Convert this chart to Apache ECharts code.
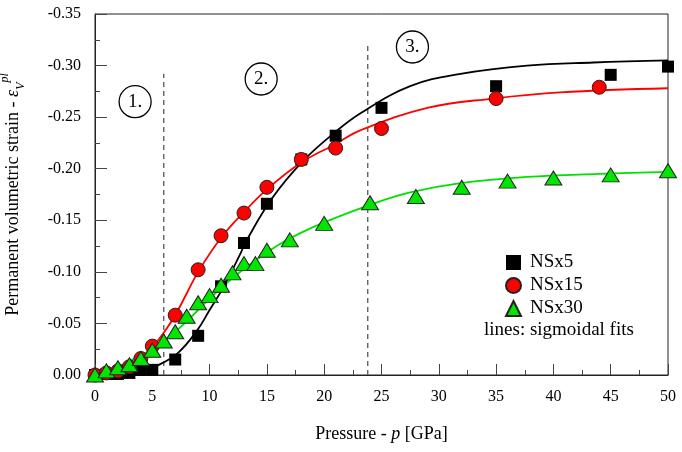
<!DOCTYPE html>
<html>
<head>
<meta charset="utf-8">
<style>
  html, body { margin: 0; padding: 0; background: #fff; }
  #chart { width: 682px; height: 452px; }
</style>
<script src="https://cdn.jsdelivr.net/npm/echarts@6/dist/echarts.min.js"></script>
</head>
<body>
<div id="chart"></div>
<script>
// measured points (pressure in GPa, strain as plotted, negative up)
const ns5P = [0, 1, 2, 3, 4, 5, 7, 9, 11, 13, 15, 18, 21, 25, 35, 45, 50]
const ns5V = [0, -0.001, -0.001, -0.002, -0.005, -0.005, -0.015, -0.038, -0.086, -0.128, -0.166, -0.209, -0.232, -0.259, -0.280, -0.291, -0.299]

const ns15P = [0, 1, 2, 3, 4, 5, 7, 9, 11, 13, 15, 18, 21, 25, 35, 44]
const ns15V = [0, -0.002, -0.004, -0.008, -0.016, -0.028, -0.058, -0.102, -0.135, -0.157, -0.182, -0.209, -0.220, -0.239, -0.268, -0.279]

const ns30P = [0, 1, 2, 3, 4, 5, 6, 7, 8, 9, 10, 11, 12, 13, 14, 15, 17, 20, 24, 28, 32, 36, 40, 45, 50]
const ns30V = [0, -0.004, -0.007, -0.010, -0.016, -0.024, -0.033, -0.042, -0.057, -0.070, -0.077, -0.087, -0.099, -0.108, -0.108, -0.121, -0.131, -0.147, -0.167, -0.173, -0.182, -0.188, -0.191, -0.194, -0.198]

// sigmoidal fit curves
const fit5P = [0, 2, 4, 5.4, 7.2, 8.9, 10, 11.2, 12.7, 13.2, 15.5, 18.2, 20.8, 23.2, 27.5, 31.9, 37.7, 43.5, 50]
const fit5V = [0, -0.001, -0.004, -0.009, -0.021, -0.043, -0.063, -0.085, -0.118, -0.130, -0.172, -0.208, -0.234, -0.254, -0.280, -0.292, -0.300, -0.303, -0.305]

const fit15P = [0, 1, 2, 3, 4, 5, 6, 7, 8, 9, 11, 13, 15, 18, 21, 23.1, 29, 34.7, 40.6, 50]
const fit15V = [0, -0.002, -0.005, -0.009, -0.016, -0.027, -0.041, -0.058, -0.079, -0.100, -0.133, -0.158, -0.180, -0.206, -0.224, -0.237, -0.259, -0.268, -0.274, -0.278]

const fit30P = [0, 2, 4, 6, 8, 10, 12, 14, 16, 18, 20, 24, 27.5, 31.9, 37.7, 44, 50]
const fit30V = [0, -0.008, -0.019, -0.033, -0.052, -0.074, -0.094, -0.111, -0.126, -0.138, -0.148, -0.165, -0.177, -0.186, -0.192, -0.195, -0.197]

// stage markers
const stageLabels = ['1.', '2.', '3.']
const stageP = [3.5, 14.5, 27.7]
const stageV = [-0.265, -0.287, -0.318]
const dividerP = [6, 23.8]
const dividerTop = [-0.292, -0.322]

const serif = 'Liberation Serif'
const zip = (xs, ys) => xs.map((x, i) => [x, ys[i]])

const chart = echarts.init(document.getElementById('chart'))

const dividers = dividerP.map((p, i) => ({
  type: 'line',
  data: [[p, 0], [p, dividerTop[i]]],
  symbol: 'none',
  silent: true,
  z: 1,
  lineStyle: { color: '#555', width: 1.3, type: [5, 4] }
}))

chart.setOption({
  animation: false,
  backgroundColor: '#fff',
  textStyle: { fontFamily: serif },
  grid: {
    left: 95,
    right: 14,
    top: 14,
    bottom: 77,
    outerBoundsMode: 'none',
    containLabel: false,
    show: true,
    borderColor: '#222',
    borderWidth: 1
  },
  legend: {
    data: ['NSx5', 'NSx15', 'NSx30'],
    orient: 'vertical',
    left: 500,
    top: 248,
    itemGap: 4,
    itemWidth: 15,
    itemHeight: 15,
    textStyle: { fontFamily: serif, fontSize: 19, color: '#000', padding: [0, 0, 0, 4] }
  },
  graphic: [{
    type: 'text',
    left: 484,
    top: 321,
    style: { text: 'lines: sigmoidal fits', fontFamily: serif, fontSize: 19, fill: '#000' }
  }],
  xAxis: {
    type: 'value',
    min: 0,
    max: 50,
    interval: 5,
    name: 'Pressure - {i|p} [GPa]',
    nameLocation: 'middle',
    nameGap: 50,
    nameTextStyle: {
      fontFamily: serif,
      fontSize: 18,
      color: '#000',
      rich: { i: { fontFamily: serif, fontSize: 18, fontStyle: 'italic', color: '#000' } }
    },
    axisLine: { lineStyle: { color: '#222', width: 1 } },
    axisTick: { inside: true, length: 11, lineStyle: { color: '#444' } },
    minorTick: { show: true, splitNumber: 2, length: 5, lineStyle: { color: '#444' } },
    splitLine: { show: false },
    axisLabel: { fontFamily: serif, fontSize: 16, color: '#000', margin: 14 }
  },
  yAxis: {
    type: 'value',
    min: -0.35,
    max: 0,
    interval: 0.05,
    inverse: true,
    name: 'Permanent volumetric strain - {e|ε}{sub|V}{sup|pl}',
    nameLocation: 'middle',
    nameGap: 68,
    nameTextStyle: {
      fontFamily: serif,
      fontSize: 18,
      color: '#000',
      rich: {
        e: { fontFamily: serif, fontSize: 18, fontStyle: 'italic', color: '#000' },
        sub: { fontFamily: serif, fontSize: 12, fontStyle: 'italic', color: '#000', verticalAlign: 'bottom', lineHeight: 28 },
        sup: { fontFamily: serif, fontSize: 12, fontStyle: 'italic', color: '#000', verticalAlign: 'top', lineHeight: 8 }
      }
    },
    axisLine: { lineStyle: { color: '#222', width: 1 } },
    axisTick: { inside: true, length: 12, lineStyle: { color: '#444' } },
    minorTick: { show: true, splitNumber: 2, length: 5, lineStyle: { color: '#444' } },
    splitLine: { show: false },
    axisLabel: {
      fontFamily: serif,
      fontSize: 16,
      color: '#000',
      margin: 14,
      formatter: v => v.toFixed(2)
    }
  },
  series: [
    ...dividers,
    {
      name: 'fit5',
      type: 'line',
      data: zip(fit5P, fit5V),
      smooth: 0.4,
      symbol: 'none',
      z: 2,
      lineStyle: { color: '#000', width: 1.8 }
    },
    {
      name: 'fit15',
      type: 'line',
      data: zip(fit15P, fit15V),
      smooth: 0.4,
      symbol: 'none',
      z: 2,
      lineStyle: { color: '#ff0000', width: 1.8 }
    },
    {
      name: 'fit30',
      type: 'line',
      data: zip(fit30P, fit30V),
      smooth: 0.4,
      symbol: 'none',
      z: 2,
      lineStyle: { color: '#00e000', width: 1.8 }
    },
    {
      name: 'NSx5',
      type: 'scatter',
      data: zip(ns5P, ns5V),
      symbol: 'rect',
      symbolSize: 12,
      z: 3,
      itemStyle: { color: '#000', opacity: 1 }
    },
    {
      name: 'NSx15',
      type: 'scatter',
      data: zip(ns15P, ns15V),
      symbol: 'circle',
      symbolSize: 14,
      z: 4,
      itemStyle: { color: '#ff0000', borderColor: '#222', borderWidth: 1, opacity: 1 }
    },
    {
      name: 'NSx30',
      type: 'scatter',
      data: zip(ns30P, ns30V),
      symbol: 'triangle',
      symbolSize: [17, 14],
      z: 5,
      itemStyle: { color: '#00e600', borderColor: '#222', borderWidth: 1, opacity: 1 }
    },
    {
      name: 'stages',
      type: 'scatter',
      data: stageP.map((p, i) => ({ value: [p, stageV[i]], label: { formatter: stageLabels[i] } })),
      symbol: 'circle',
      symbolSize: 32,
      silent: true,
      z: 6,
      itemStyle: { color: '#fff', borderColor: '#000', borderWidth: 1.3, opacity: 1 },
      label: {
        show: true,
        position: 'inside',
        fontFamily: serif,
        fontSize: 19,
        color: '#000'
      }
    }
  ]
})
</script>
</body>
</html>
